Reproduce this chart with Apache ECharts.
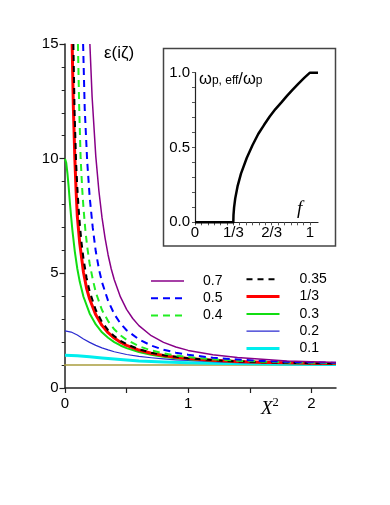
<!DOCTYPE html>
<html><head><meta charset="utf-8">
<script src="https://cdn.jsdelivr.net/npm/echarts/dist/echarts.min.js"></script>
<style>html,body{margin:0;padding:0;background:#fff}#c{width:390px;height:505px}</style>
</head><body><div id="c"></div>
<script>
// ---- tick labels ----
const mainXLabels = [0, 1, 2];
const mainXTicks = [0, 0.5, 1, 1.5, 2];
const mainYLabels = [0, 5, 10, 15];
const insetXLabels = ['0', '1/3', '2/3', '1'];
const insetXLabelValues = [0, 1/3, 2/3, 1];
const insetXTickCount = 18; // ticks every 1/18 between 0 and 1
const insetYLabels = ['0.0', '0.5', '1.0'];

// ---- legend entries ----
const legendLeft = ['0.7', '0.5', '0.4'];
const legendRight = ['0.35', '1/3', '0.3', '0.2', '0.1'];

// ---- main plot: eps(i zeta) vs X^2, one array per filling factor f ----
const f07 = [[0.202,15],[0.22,12.7],[0.25,10.1],[0.275,8.6],[0.3,7.45],[0.325,6.55],[0.35,5.8],[0.375,5.2],[0.4,4.72],[0.45,3.97],[0.5,3.43],[0.55,3.03],[0.6,2.72],[0.7,2.28],[0.8,1.99],[0.9,1.79],[1.0,1.64],[1.2,1.45],[1.4,1.33],[1.6,1.25],[1.8,1.18],[2.0,1.14],[2.2,1.11]];
const f05 = [[0.147,15],[0.16,12.2],[0.18,9.9],[0.2,8.35],[0.225,7.0],[0.25,5.95],[0.275,5.2],[0.3,4.62],[0.35,3.8],[0.4,3.22],[0.45,2.82],[0.5,2.52],[0.6,2.12],[0.7,1.85],[0.8,1.67],[0.9,1.54],[1.0,1.45],[1.2,1.32],[1.4,1.24],[1.6,1.18],[1.8,1.14],[2.0,1.12],[2.2,1.1]];
const f04 = [[0.105,15],[0.115,12.3],[0.127,10],[0.14,8.65],[0.15,7.85],[0.165,6.9],[0.18,6.17],[0.2,5.42],[0.225,4.75],[0.25,4.17],[0.3,3.4],[0.35,2.92],[0.4,2.56],[0.45,2.3],[0.5,2.1],[0.6,1.82],[0.7,1.64],[0.8,1.51],[0.9,1.42],[1.0,1.35],[1.2,1.25],[1.4,1.19],[1.6,1.15],[1.8,1.12],[2.0,1.1],[2.2,1.08]];
const f035 = [[0.068,15],[0.078,12],[0.09,9.85],[0.1,8.75],[0.11,7.87],[0.12,7.16],[0.135,6.3],[0.15,5.64],[0.175,4.81],[0.2,4.21],[0.25,3.4],[0.3,2.88],[0.35,2.52],[0.4,2.26],[0.45,2.06],[0.5,1.91],[0.6,1.69],[0.7,1.54],[0.8,1.43],[0.9,1.36],[1.0,1.3],[1.2,1.215],[1.4,1.16],[1.6,1.127],[1.8,1.1],[2.0,1.083],[2.2,1.07]];
const f033 = [[0.058,15],[0.068,12.2],[0.08,10],[0.09,8.6],[0.1,7.5],[0.12,6.3],[0.15,5.05],[0.175,4.35],[0.2,3.88],[0.25,3.19],[0.3,2.73],[0.35,2.41],[0.4,2.18],[0.45,2.0],[0.5,1.86],[0.6,1.655],[0.7,1.515],[0.8,1.415],[0.9,1.34],[1.0,1.285],[1.2,1.205],[1.4,1.155],[1.6,1.12],[1.8,1.097],[2.0,1.08],[2.2,1.066]];
const f03 = [[0,10.0],[0.005,9.95],[0.01,9.82],[0.02,9.35],[0.03,8.75],[0.04,8.06],[0.05,7.45],[0.06,6.88],[0.08,5.94],[0.1,5.2],[0.12,4.63],[0.15,3.98],[0.2,3.25],[0.25,2.77],[0.3,2.43],[0.35,2.19],[0.4,2.0],[0.45,1.855],[0.5,1.74],[0.6,1.57],[0.7,1.45],[0.8,1.365],[0.9,1.3],[1.0,1.25],[1.2,1.185],[1.4,1.14],[1.6,1.11],[1.8,1.088],[2.0,1.072],[2.2,1.06]];
const f02 = [[0,2.49],[0.05,2.44],[0.1,2.31],[0.15,2.14],[0.2,1.99],[0.25,1.86],[0.3,1.75],[0.35,1.66],[0.4,1.58],[0.5,1.46],[0.6,1.38],[0.7,1.32],[0.8,1.27],[0.9,1.23],[1.0,1.2],[1.2,1.15],[1.4,1.11],[1.6,1.09],[1.8,1.07],[2.0,1.06],[2.2,1.05]];
const f01 = [[0,1.43],[0.1,1.41],[0.2,1.36],[0.3,1.31],[0.4,1.26],[0.5,1.22],[0.6,1.18],[0.7,1.155],[0.8,1.135],[1.0,1.1],[1.2,1.08],[1.5,1.055],[1.8,1.04],[2.2,1.03]];
const unitLine = [[-0.122,1],[2.2,1]];

// ---- inset: omega_p,eff / omega_p vs f ----
const insetCurve = [[0,0],[0.3333,0],[0.335,0.05],[0.34,0.1],[0.345,0.13],[0.35,0.16],[0.37,0.24],[0.4,0.325],[0.45,0.43],[0.5,0.515],[0.55,0.59],[0.6,0.65],[0.65,0.707],[0.7,0.757],[0.75,0.8],[0.8,0.845],[0.85,0.887],[0.9,0.927],[0.95,0.965],[1.0,1.0],[1.07,1.0]];

const FONT = 'Liberation Sans';
const AX = '#222';

function mkLine(name, data, color, width, type, z) {
  return {
    name, type: 'line', data, xAxisIndex: 0, yAxisIndex: 0,
    symbol: 'none', showSymbol: false, smooth: false,
    lineStyle: { color, width, type, join: 'round' }, itemStyle: { color },
    z: z, silent: true
  };
}

const chart = echarts.init(document.getElementById('c'), null, { renderer: 'canvas' });
chart.setOption({
  animation: false,
  backgroundColor: '#fff',
  grid: [
    { left: 65, top: 44, width: 271, height: 344 },
    { left: 195, top: 72.7, width: 123, height: 149.6 }
  ],
  xAxis: [
    {
      type: 'value', gridIndex: 0, min: 0, max: 2.2, interval: 1,
      axisLine: { lineStyle: { color: AX, width: 1.5 } },
      axisTick: { length: 5, customValues: mainXTicks, lineStyle: { color: AX, width: 1.2 } },
      splitLine: { show: false },
      axisLabel: { customValues: mainXLabels, margin: 8, fontSize: 15, fontFamily: FONT, color: '#000',
        formatter: v => String(Math.round(v)) }
    },
    {
      type: 'value', gridIndex: 1, min: 0, max: 1.07, interval: 1/3,
      axisLine: { lineStyle: { color: AX, width: 1.2 } },
      axisTick: { length: 3, customValues: Array.from({length: insetXTickCount + 1}, (_, k) => k / insetXTickCount),
        lineStyle: { color: '#555', width: 1 } },
      splitLine: { show: false },
      axisLabel: { customValues: insetXLabelValues, margin: 3, fontSize: 15, fontFamily: FONT, color: '#000',
        formatter: v => { const k = Math.round(v * 3); return Math.abs(v * 3 - k) < 1e-6 ? insetXLabels[k] : ''; } }
    }
  ],
  yAxis: [
    {
      type: 'value', gridIndex: 0, min: 0, max: 15, interval: 5,
      axisLine: { show: true, lineStyle: { color: AX, width: 1.5 } },
      axisTick: { show: true, length: 5.5, lineStyle: { color: AX, width: 1.2 } },
      minorTick: { show: true, splitNumber: 5, length: 3.3, lineStyle: { color: AX, width: 1 } },
      splitLine: { show: false }, minorSplitLine: { show: false },
      axisLabel: { margin: 6.5, fontSize: 15, fontFamily: FONT, color: '#000',
        formatter: v => mainYLabels.includes(v) ? String(v) : '' }
    },
    {
      type: 'value', gridIndex: 1, min: 0, max: 1, interval: 0.5,
      axisLine: { show: true, lineStyle: { color: AX, width: 1.2 } },
      axisTick: { show: true, length: 3, lineStyle: { color: '#555', width: 1 } },
      minorTick: { show: true, splitNumber: 5, length: 3, lineStyle: { color: '#555', width: 1 } },
      splitLine: { show: false }, minorSplitLine: { show: false },
      axisLabel: { margin: 5, fontSize: 15, fontFamily: FONT, color: '#000',
        formatter: v => insetYLabels[Math.round(v * 2)] || '' }
    }
  ],
  legend: [
    {
      data: legendLeft, orient: 'vertical', left: 150, top: 274, padding: 0,
      itemWidth: 33, itemHeight: 14, itemGap: 3.3, selectedMode: false,
      itemStyle: { opacity: 0 }, lineStyle: { width: 'inherit' },
      textStyle: { fontSize: 14, fontFamily: FONT, color: '#000', padding: [0, 0, 0, 14] }
    },
    {
      data: legendRight, orient: 'vertical', left: 245, top: 272.3, padding: 0,
      itemWidth: 33, itemHeight: 14, itemGap: 3.3, selectedMode: false,
      itemStyle: { opacity: 0 }, lineStyle: { width: 'inherit' },
      textStyle: { fontSize: 14, fontFamily: FONT, color: '#000', padding: [0, 0, 0, 15] }
    }
  ],
  title: [
    { text: 'ε(iζ)', left: 104, top: 45, padding: 0,
      textStyle: { fontSize: 17, fontWeight: 'normal', fontFamily: FONT, color: '#000' } },
    { text: '{x|X}{s|2}', left: 261, top: 396, padding: 0,
      textStyle: { color: '#000', fontWeight: 'normal', rich: {
        x: { fontSize: 19, fontStyle: 'italic', fontWeight: 'normal', fontFamily: 'Liberation Serif', color: '#000', verticalAlign: 'top', padding: [3, 0, 0, 0] },
        s: { fontSize: 12.5, fontWeight: 'normal', fontFamily: 'Liberation Serif', color: '#000', verticalAlign: 'top' } } } },
    { text: '{w|ω}{s|p, eff}{w|/ω}{s|p}', left: 199, top: 71, padding: 0,
      textStyle: { color: '#000', fontWeight: 'normal', rich: {
        w: { fontSize: 16.5, fontWeight: 'normal', fontFamily: FONT, color: '#000', padding: [0, 0, 3, 0] },
        s: { fontSize: 12, fontWeight: 'normal', fontFamily: FONT, color: '#000' } } } },
    { text: 'f', left: 297, top: 199, padding: 0,
      textStyle: { fontSize: 19, fontStyle: 'italic', fontWeight: 'normal', fontFamily: 'Liberation Serif', color: '#000' } }
  ],
  graphic: [
    { type: 'rect', shape: { x: 163.5, y: 48.5, width: 172, height: 197.5 },
      style: { fill: 'none', stroke: '#444', lineWidth: 1.5 }, silent: true }
  ],
  series: [
    { name: 'unit', type: 'line', data: unitLine, xAxisIndex: 0, yAxisIndex: 0, symbol: 'none',
      clip: false, lineStyle: { color: '#a89c3c', width: 1.5 }, z: 1, silent: true },
    mkLine('0.1', f01, '#00eeee', 3, 'solid', 2),
    mkLine('0.2', f02, '#2a2ad0', 1.2, 'solid', 3),
    mkLine('0.3', f03, '#11dd11', 2, 'solid', 4),
    mkLine('1/3', f033, '#ff0000', 3, 'solid', 5),
    mkLine('0.35', f035, '#000000', 2, [6, 5], 6),
    mkLine('0.4', f04, '#22ee22', 2, [7, 5], 7),
    mkLine('0.5', f05, '#0000ff', 2, [7, 5], 8),
    mkLine('0.7', f07, '#880088', 1.5, 'solid', 9),
    { name: 'inset', type: 'line', data: insetCurve, xAxisIndex: 1, yAxisIndex: 1, symbol: 'none',
      clip: false, smooth: false,
      lineStyle: { color: '#000', width: 2.5, join: 'round' }, z: 10, silent: true }
  ]
});
</script>
</body></html>
